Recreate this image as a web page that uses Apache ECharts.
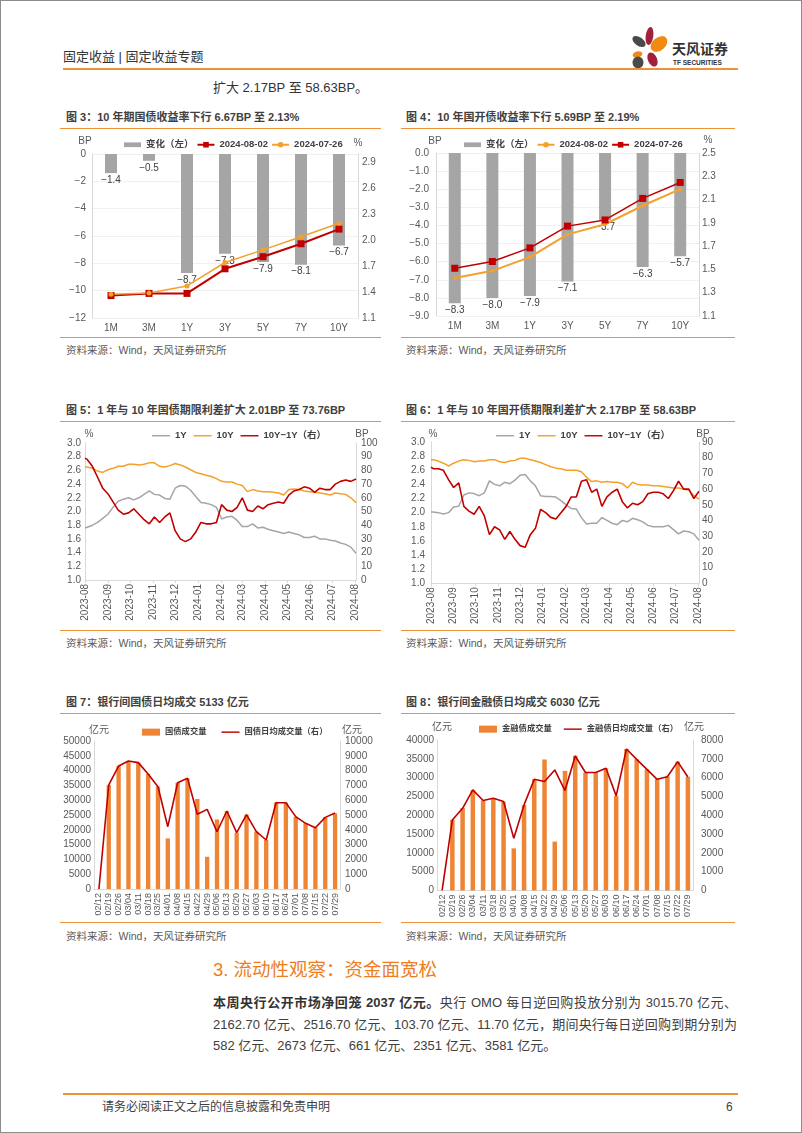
<!DOCTYPE html>
<html><head><meta charset="utf-8">
<script src="https://cdn.jsdelivr.net/npm/echarts@6/dist/echarts.min.js"></script>
<style>
html,body{margin:0;padding:0;background:#fff;}
body{width:802px;height:1133px;position:relative;overflow:hidden;font-family:"Liberation Sans","Noto Sans CJK SC",sans-serif;color:#404040;}
.frame{position:absolute;left:0;top:0;width:802px;height:1133px;box-sizing:border-box;border:1px solid #8c8c8c;}
.abs{position:absolute;white-space:nowrap;}
.hl{position:absolute;background:#EF9135;}
.ttl{position:absolute;font-size:11px;font-weight:bold;color:#404040;line-height:14px;white-space:nowrap;}
.src{position:absolute;font-size:10.5px;color:#595959;line-height:13px;white-space:nowrap;}
.chart{position:absolute;}
.para{position:absolute;left:213px;width:524px;font-size:13px;line-height:18px;color:#404040;text-align:justify;text-align-last:justify;}
</style></head><body>
<div class="frame"></div>

<div class="abs" style="left:63px;top:48px;font-size:13px;line-height:18px;color:#333;">固定收益 | 固定收益专题</div>
<svg style="position:absolute;left:626px;top:24px" width="46" height="46" viewBox="626 24 46 46">
<ellipse cx="639" cy="41.5" rx="7.5" ry="4.2" transform="rotate(35 639 41.5)" fill="#4a4a4a"/>
<ellipse cx="649.5" cy="36" rx="3.8" ry="9" transform="rotate(8 649.5 36)" fill="#A3203A"/>
<ellipse cx="659" cy="44" rx="9.5" ry="6.5" transform="rotate(-40 659 44)" fill="#F08A12"/>
<ellipse cx="637.5" cy="54.5" rx="5" ry="3" transform="rotate(-15 637.5 54.5)" fill="#F08A12"/>
<ellipse cx="638" cy="62.5" rx="5.5" ry="6" fill="#4a4a4a"/>
<ellipse cx="652.5" cy="59.5" rx="4.5" ry="7.5" transform="rotate(-25 652.5 59.5)" fill="#A3203A"/>
</svg>
<div class="abs" style="left:672px;top:41px;font-size:14px;font-weight:bold;line-height:16px;color:#333;">天风证券</div>
<div class="abs" style="left:673px;top:59px;font-size:6.5px;font-weight:bold;line-height:7px;color:#333;">TF SECURITIES</div>
<div class="hl" style="left:63px;top:67.5px;width:675px;height:2px;"></div>
<div class="abs" style="left:213px;top:79px;font-size:13px;line-height:18px;color:#333;">扩大 2.17BP 至 58.63BP。</div>

<!-- chart 3 / 4 -->
<div class="ttl" style="left:66px;top:110px;">图 3：10 年期国债收益率下行 6.67BP 至 2.13%</div>
<div class="ttl" style="left:406px;top:110px;">图 4：10 年国开债收益率下行 5.69BP 至 2.19%</div>
<div class="hl" style="left:60px;top:127.5px;width:321px;height:1.3px;"></div>
<div class="hl" style="left:401px;top:127.5px;width:334px;height:1.3px;"></div>
<div id="c3" class="chart" style="left:60px;top:133px;width:340px;height:200px;"></div>
<div id="c4" class="chart" style="left:400px;top:133px;width:330px;height:200px;"></div>
<div class="hl" style="left:60px;top:336.5px;width:321px;height:1.3px;"></div>
<div class="hl" style="left:401px;top:336.5px;width:334px;height:1.3px;"></div>
<div class="src" style="left:66px;top:343.5px;">资料来源：Wind，天风证券研究所</div>
<div class="src" style="left:406px;top:343.5px;">资料来源：Wind，天风证券研究所</div>

<!-- chart 5 / 6 -->
<div class="ttl" style="left:66px;top:403px;">图 5：1 年与 10 年国债期限利差扩大 2.01BP 至 73.76BP</div>
<div class="ttl" style="left:406px;top:403px;">图 6：1 年与 10 年国开债期限利差扩大 2.17BP 至 58.63BP</div>
<div class="hl" style="left:60px;top:420.5px;width:321px;height:1.3px;"></div>
<div class="hl" style="left:401px;top:420.5px;width:334px;height:1.3px;"></div>
<div id="c5" class="chart" style="left:60px;top:425px;width:330px;height:202px;"></div>
<div id="c6" class="chart" style="left:400px;top:425px;width:330px;height:202px;"></div>
<div class="hl" style="left:60px;top:629.5px;width:321px;height:1.3px;"></div>
<div class="hl" style="left:401px;top:629.5px;width:334px;height:1.3px;"></div>
<div class="src" style="left:66px;top:636.5px;">资料来源：Wind，天风证券研究所</div>
<div class="src" style="left:406px;top:636.5px;">资料来源：Wind，天风证券研究所</div>

<!-- chart 7 / 8 -->
<div class="ttl" style="left:66px;top:695px;">图 7：银行间国债日均成交 5133 亿元</div>
<div class="ttl" style="left:406px;top:695px;">图 8：银行间金融债日均成交 6030 亿元</div>
<div class="hl" style="left:60px;top:712.5px;width:321px;height:1.3px;"></div>
<div class="hl" style="left:401px;top:712.5px;width:334px;height:1.3px;"></div>
<div id="c7" class="chart" style="left:60px;top:720px;width:330px;height:200px;"></div>
<div id="c8" class="chart" style="left:400px;top:720px;width:330px;height:200px;"></div>
<div class="hl" style="left:60px;top:921.5px;width:321px;height:1.3px;"></div>
<div class="hl" style="left:401px;top:921.5px;width:334px;height:1.3px;"></div>
<div class="src" style="left:66px;top:929.5px;">资料来源：Wind，天风证券研究所</div>
<div class="src" style="left:406px;top:929.5px;">资料来源：Wind，天风证券研究所</div>

<div class="abs" style="left:213px;top:959px;font-size:18.5px;line-height:22px;color:#EE7D22;">3. 流动性观察：资金面宽松</div>
<div class="para" style="top:994px;"><b style="color:#333">本周央行公开市场净回笼 2037 亿元。</b>央行 OMO 每日逆回购投放分别为 3015.70 亿元、</div>
<div class="para" style="top:1016px;">2162.70 亿元、2516.70 亿元、103.70 亿元、11.70 亿元，期间央行每日逆回购到期分别为</div>
<div class="para" style="top:1037px;text-align-last:left;">582 亿元、2673 亿元、661 亿元、2351 亿元、3581 亿元。</div>

<div class="hl" style="left:63px;top:1093px;width:675px;height:2px;"></div>
<div class="abs" style="left:102px;top:1099px;font-size:12px;line-height:16px;color:#404040;">请务必阅读正文之后的信息披露和免责申明</div>
<div class="abs" style="left:726px;top:1099px;font-size:12px;line-height:16px;color:#404040;">6</div>

<script>
// ---------- data ----------
const tenors = ['1M','3M','1Y','3Y','5Y','7Y','10Y'];
const govChange = [-1.4,-0.5,-8.7,-7.3,-7.9,-8.1,-6.7];
const govYield0802 = [1.36,1.385,1.385,1.67,1.81,1.96,2.13];
const govYield0726 = [1.374,1.39,1.472,1.743,1.889,2.041,2.197];

const cdbChange = [-8.3,-8.0,-7.9,-7.1,-3.7,-6.3,-5.7];
const cdbYield0802 = [1.427,1.488,1.606,1.801,1.888,2.047,2.19];
const cdbYield0726 = [1.51,1.568,1.685,1.872,1.925,2.11,2.247];

const dates56 = ['2023-08-01','2023-08-04','2023-08-11','2023-08-18','2023-08-25','2023-09-01','2023-09-08','2023-09-15','2023-09-22','2023-09-29','2023-10-06','2023-10-13','2023-10-20','2023-10-27','2023-11-03','2023-11-10','2023-11-17','2023-11-24','2023-12-01','2023-12-08','2023-12-15','2023-12-22','2023-12-29','2024-01-05','2024-01-12','2024-01-19','2024-01-26','2024-02-02','2024-02-09','2024-02-16','2024-02-23','2024-03-01','2024-03-08','2024-03-15','2024-03-22','2024-03-29','2024-04-05','2024-04-12','2024-04-19','2024-04-26','2024-05-03','2024-05-10','2024-05-17','2024-05-24','2024-05-31','2024-06-07','2024-06-14','2024-06-21','2024-06-28','2024-07-05','2024-07-12','2024-07-19','2024-07-26','2024-08-02'];
const monthTicks = ['2023-08-01','2023-09-01','2023-10-01','2023-11-01','2023-12-01','2024-01-01','2024-02-01','2024-03-01','2024-04-01','2024-05-01','2024-06-01','2024-07-01','2024-08-01'];

const gov1Y = [1.76,1.77,1.80,1.84,1.90,1.96,2.06,2.15,2.18,2.20,2.17,2.20,2.25,2.30,2.25,2.24,2.19,2.18,2.34,2.38,2.37,2.31,2.22,2.13,2.12,2.10,2.06,1.89,1.92,1.93,1.87,1.78,1.78,1.82,1.76,1.77,1.74,1.72,1.70,1.68,1.70,1.68,1.66,1.62,1.62,1.64,1.60,1.60,1.58,1.57,1.54,1.52,1.48,1.39];
const gov10Y = [2.65,2.65,2.63,2.59,2.57,2.61,2.63,2.66,2.66,2.69,2.69,2.68,2.69,2.71,2.71,2.66,2.65,2.67,2.70,2.68,2.65,2.61,2.57,2.55,2.53,2.51,2.48,2.44,2.43,2.43,2.40,2.38,2.29,2.32,2.30,2.29,2.29,2.28,2.27,2.24,2.32,2.33,2.32,2.30,2.29,2.28,2.27,2.26,2.24,2.27,2.26,2.25,2.20,2.13];
const govSpread = [89,88,83,75,67,63,57,51,48,49,52,48,44,41,46,42,46,49,36,30,28,30,35,42,41,41,42,55,51,50,53,60,51,50,54,52,55,56,57,56,62,65,66,68,67,64,67,66,66,70,72,73,72,73.76];

const cdb1Y = [2.01,2.01,2.00,1.98,2.00,2.08,2.09,2.25,2.28,2.27,2.24,2.28,2.45,2.40,2.38,2.43,2.41,2.46,2.53,2.54,2.45,2.38,2.24,2.23,2.23,2.22,2.17,2.11,2.06,2.05,1.93,1.84,1.85,1.85,1.93,1.89,1.85,1.83,1.89,1.87,1.92,1.90,1.87,1.82,1.80,1.80,1.80,1.82,1.76,1.70,1.74,1.73,1.70,1.61];
const cdb10Y = [2.75,2.75,2.73,2.70,2.66,2.70,2.73,2.75,2.74,2.72,2.73,2.73,2.75,2.75,2.72,2.71,2.73,2.74,2.77,2.77,2.75,2.73,2.71,2.68,2.65,2.63,2.62,2.60,2.60,2.60,2.58,2.50,2.44,2.45,2.43,2.44,2.43,2.43,2.41,2.35,2.43,2.40,2.39,2.39,2.38,2.38,2.37,2.36,2.35,2.35,2.33,2.32,2.24,2.19];
const cdbSpread = [74,73,73,72,66,61,64,49,46,44,49,43,31,36,34,28,33,28,24,23,31,35,47,45,42,41,45,49,55,55,65,66,58,60,49,55,58,60,52,48,51,50,52,57,58,58,57,54,59,65,60,60,54,58.63];

const weeks = ['02/12','02/19','02/26','03/04','03/11','03/18','03/25','04/01','04/08','04/15','04/22','04/29','05/06','05/13','05/20','05/27','06/03','06/10','06/17','06/24','07/01','07/08','07/15','07/22','07/29'];
const govVolume = [0,35100,41600,43200,42700,38900,34600,17100,35900,37400,30400,10900,23500,26300,19000,25100,19400,16600,29200,29200,24400,22200,20700,24200,25600];
const govDailyAvg = [0,7030,8310,8650,8540,7770,6910,4210,7180,7480,5050,5380,3870,5270,3810,5020,3870,3310,5830,5830,4890,4440,4140,4840,5133];
const finVolume = [0,18800,21900,26700,23900,24500,23600,11200,22700,29600,34800,13000,31800,35800,31300,31300,32500,25100,37600,34900,32200,29600,30300,34200,30200];
const finDailyAvg = [0,3750,4370,5350,4780,4900,4730,2780,4550,5910,5790,6410,5310,7150,6270,6270,6500,5030,7520,6970,6440,5910,6050,6850,6030];

// ---------- helpers ----------
const FONT = '"Liberation Sans","Noto Sans CJK SC",sans-serif';
const GRAY = '#A5A5A5', RED = '#C00000', ORANGE = '#F5A02A', BARORANGE = '#EE8535';
const LBL = {color:'#595959', fontSize:10, fontFamily:FONT};
const AXL = {show:true, onZero:false, lineStyle:{color:'#D9D9D9', width:1}};
const NOTICK = {show:false};
const LINEICON = 'path://M0,0H20V1.6H0Z';
const neg = (v, d) => (v < 0 ? '−' : '') + (d == null ? String(Math.abs(v)) : Math.abs(v).toFixed(d));
const LEG = {fontSize:9.5, fontWeight:'bold', color:'#404040', fontFamily:FONT};
const LEG2 = {fontSize:8.3, fontWeight:'bold', color:'#404040', fontFamily:FONT};
function parseLocal(s){ const p = s.split('-').map(Number); return new Date(p[0], p[1]-1, p[2]).getTime(); }
function fmtMonth(v){ const d = new Date(v); return d.getFullYear() + '-' + String(d.getMonth()+1).padStart(2,'0'); }
function unit(x, y, t, align){ return {type:'text', x:x, y:y, style:{text:t, fill:'#595959', font:'10px ' + FONT, align:align||'center', verticalAlign:'middle'}}; }
function mk(id, opt){
  try { const c = echarts.init(document.getElementById(id)); opt.animation = false; opt.textStyle = {fontFamily:FONT}; c.setOption(opt); }
  catch(e){ console.error(id, e); }
}

// ---------- chart 3 / 4 ----------
function yieldChart(id, grid, legLeft, unitPos, change, leftAxis, rightAxis, s1, s2, leftFmt){
  mk(id, {
    graphic:[unit(unitPos[0], unitPos[1], 'BP'), unit(unitPos[2], unitPos[3], '%')],
    legend:{left:legLeft, top:2, itemWidth:17, itemHeight:7, itemGap:3, textStyle:LEG,
      data:[{name:'变化（左）', icon:'path://M0,0H18V5H0Z'}, s1.name, s2.name]},
    grid:grid,
    xAxis:{type:'category', data:tenors, axisLine:{show:false, onZero:false}, axisTick:NOTICK, axisLabel:Object.assign({}, LBL, {margin:5})},
    yAxis:[
      Object.assign({type:'value', axisLine:AXL, axisTick:NOTICK,
        splitLine:{show:true, lineStyle:{color:'#F0F0F0'}},
        axisLabel:Object.assign({}, LBL, {margin:leftAxis.margin, formatter:leftFmt})}, leftAxis.range),
      Object.assign({type:'value', axisLine:AXL, axisTick:NOTICK, splitLine:{show:false},
        axisLabel:Object.assign({}, LBL, {margin:rightAxis.margin, showMaxLabel:rightAxis.showMax, formatter:v=>v.toFixed(1)})}, rightAxis.range)
    ],
    series:[
      {name:'变化（左）', type:'bar', data:change, barWidth:12, itemStyle:{color:GRAY}, z:1,
        label:{show:true, position:'bottom', distance:2, fontSize:10, color:'#404040', fontFamily:FONT, formatter:p=>neg(p.value,1)}},
      Object.assign({type:'line', yAxisIndex:1, z:5}, s1),
      Object.assign({type:'line', yAxisIndex:1, z:5}, s2)
    ]
  });
}
yieldChart('c3', {left:32, top:21, width:266, height:166}, 59, [25,8,298,10], govChange,
  {range:{min:-12, max:0, interval:2}, margin:6},
  {range:{min:1.1, max:3.0, interval:0.3}, margin:4, showMax:false},
  {name:'2024-08-02', data:govYield0802, symbol:'rect', symbolSize:7, lineStyle:{color:RED, width:2}, itemStyle:{color:RED}},
  {name:'2024-07-26', data:govYield0726, symbol:'circle', symbolSize:5, lineStyle:{color:ORANGE, width:1.5}, itemStyle:{color:ORANGE}},
  v=>neg(v));
yieldChart('c4', {left:36, top:20, width:263, height:163}, 59, [35,8,308,7], cdbChange,
  {range:{min:-9, max:0, interval:1}, margin:7},
  {range:{min:1.1, max:2.5, interval:0.2}, margin:3, showMax:true},
  {name:'2024-08-02', data:cdbYield0802, symbol:'circle', symbolSize:4, lineStyle:{color:ORANGE, width:2}, itemStyle:{color:ORANGE}},
  {name:'2024-07-26', data:cdbYield0726, symbol:'rect', symbolSize:7, lineStyle:{color:RED, width:1.5}, itemStyle:{color:RED}},
  v=>neg(v,1));

// ---------- chart 5 / 6 ----------
const monthVals = monthTicks.map(parseLocal);
function spreadChart(id, grid, legLeft, unitPos, y1, y10, sp, rightMax, lm, rm){
  const zip = arr => dates56.map((d,i)=>[parseLocal(d), arr[i]]);
  mk(id, {
    graphic:[unit(unitPos[0], unitPos[1], '%'), unit(unitPos[2], unitPos[3], 'BP')],
    legend:{left:legLeft, top:1, itemWidth:18, itemHeight:7, itemGap:7, textStyle:LEG,
      data:[{name:'1Y', icon:LINEICON}, {name:'10Y', icon:LINEICON}, {name:'10Y−1Y（右）', icon:LINEICON}]},
    grid:grid,
    xAxis:{type:'value', min:parseLocal(dates56[0]), max:parseLocal(dates56[dates56.length-1]), axisLine:AXL,
      axisTick:{show:true, customValues:monthVals, length:3, lineStyle:{color:'#D9D9D9'}}, splitLine:{show:false},
      axisLabel:Object.assign({}, LBL, {rotate:90, margin:4, customValues:monthVals, formatter:fmtMonth})},
    yAxis:[
      {type:'value', min:1.0, max:3.0, interval:0.2, axisLine:AXL, axisTick:NOTICK, splitLine:{show:false},
        axisLabel:Object.assign({}, LBL, {margin:lm, formatter:v=>v.toFixed(1)})},
      {type:'value', min:0, max:rightMax, interval:10, axisLine:AXL, axisTick:NOTICK, splitLine:{show:false},
        axisLabel:Object.assign({}, LBL, {margin:rm})}
    ],
    series:[
      {name:'1Y', type:'line', data:zip(y1), symbol:'none', lineStyle:{color:GRAY, width:1.5}, itemStyle:{color:GRAY}},
      {name:'10Y', type:'line', data:zip(y10), symbol:'none', lineStyle:{color:ORANGE, width:1.5}, itemStyle:{color:ORANGE}},
      {name:'10Y−1Y（右）', type:'line', yAxisIndex:1, data:zip(sp), symbol:'none', lineStyle:{color:RED, width:1.6}, itemStyle:{color:RED}}
    ]
  });
}
spreadChart('c5', {left:25, top:18, width:271, height:137}, 87, [29,9,302,9], gov1Y, gov10Y, govSpread, 100, 4, 5);
spreadChart('c6', {left:31, top:17, width:268, height:144}, 91, [33,9,303,9], cdb1Y, cdb10Y, cdbSpread, 90, 6, 3);

// ---------- chart 7 / 8 ----------
function volChart(id, grid, legLeft, legTop, legGap, unitY, names, vol, avg, leftMax, rightMax, lm, rm){
  mk(id, {
    graphic:[unit(unitY[0], unitY[1], '亿元'), unit(unitY[2], unitY[1], '亿元')],
    legend:{left:legLeft, top:legTop, itemWidth:18, itemHeight:7, itemGap:legGap, textStyle:LEG2,
      data:[{name:names[0], icon:'rect'}, {name:names[1], icon:LINEICON}]},
    grid:grid,
    xAxis:{type:'category', data:weeks, axisLine:AXL, axisTick:NOTICK,
      axisLabel:Object.assign({}, LBL, {fontSize:9, rotate:90, interval:0, margin:4})},
    yAxis:[
      {type:'value', min:0, max:leftMax, interval:5000, axisLine:AXL, axisTick:NOTICK, splitLine:{show:false},
        axisLabel:Object.assign({}, LBL, {margin:lm, formatter:v=>String(v)})},
      {type:'value', min:0, max:rightMax, interval:1000, axisLine:AXL, axisTick:NOTICK, splitLine:{show:false},
        axisLabel:Object.assign({}, LBL, {margin:rm, formatter:v=>String(v)})}
    ],
    series:[
      {name:names[0], type:'bar', data:vol, barWidth:'44%', itemStyle:{color:BARORANGE}},
      {name:names[1], type:'line', yAxisIndex:1, data:avg, symbol:'none', lineStyle:{color:RED, width:1.6}, itemStyle:{color:RED}}
    ]
  });
}
volChart('c7', {left:34, top:21, width:246, height:148}, 77, 3, 15, [39,10,292], ['国债成交量','国债日均成交量（右）'], govVolume, govDailyAvg, 50000, 10000, 3, 5);
volChart('c8', {left:37, top:20, width:256, height:151}, 74, 0, 12, [42,7,294], ['金融债成交量','金融债日均成交量（右）'], finVolume, finDailyAvg, 40000, 8000, 3, 8);
</script>
</body></html>
